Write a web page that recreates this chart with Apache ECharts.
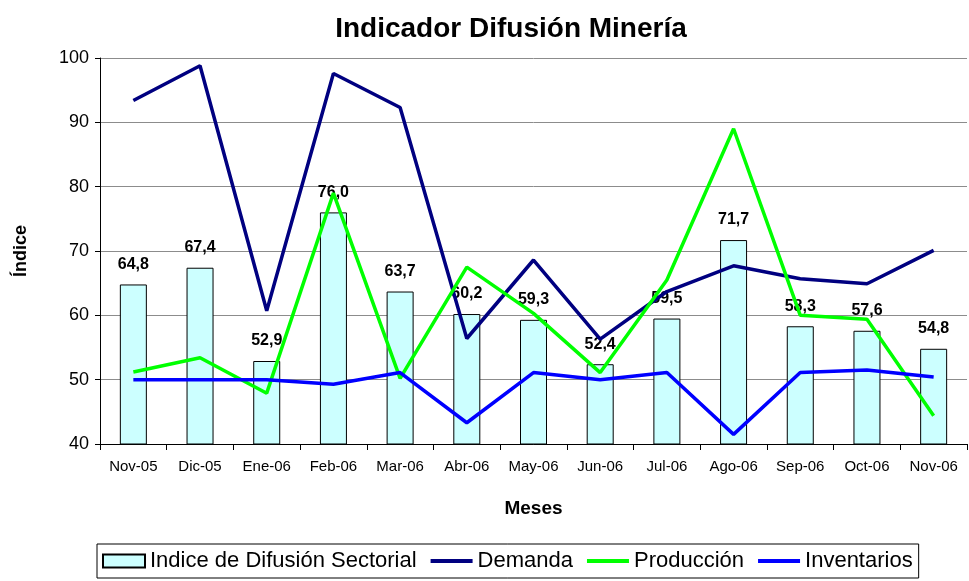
<!DOCTYPE html>
<html>
<head>
<meta charset="utf-8">
<script src="https://cdn.jsdelivr.net/npm/echarts@6/dist/echarts.min.js"></script>
<style>
  html, body { margin: 0; padding: 0; background: #fff; }
  #chart { width: 969px; height: 581px; }
</style>
</head>
<body>
<div id="chart"></div>
<script>
const meses = ['Nov-05', 'Dic-05', 'Ene-06', 'Feb-06', 'Mar-06', 'Abr-06', 'May-06', 'Jun-06', 'Jul-06', 'Ago-06', 'Sep-06', 'Oct-06', 'Nov-06'];
const indiceSectorial = [64.8, 67.4, 52.9, 76.0, 63.7, 60.2, 59.3, 52.4, 59.5, 71.7, 58.3, 57.6, 54.8];
const demanda = [93.4, 98.8, 60.7, 97.6, 92.3, 56.4, 68.6, 56.3, 63.7, 67.7, 65.7, 64.9, 70.1];
const produccion = [51.2, 53.4, 47.9, 79.0, 50.2, 67.5, 60.3, 51.1, 65.5, 89.0, 60.0, 59.4, 44.4];
const inventarios = [50.0, 50.0, 50.0, 49.3, 51.1, 43.3, 51.1, 50.0, 51.1, 41.5, 51.1, 51.5, 50.4];

const chart = echarts.init(document.getElementById('chart'));
const font = 'Arial, "Liberation Sans", sans-serif';
const lineIcon = 'path://M0,0H40V4H0Z';

const option = {
    backgroundColor: '#fff',
    animation: false,
    textStyle: { fontFamily: font, color: '#000' },
    title: {
        text: 'Indicador Difusión Minería',
        left: 506,
        top: 10,
        textAlign: 'center',
        textStyle: { fontFamily: font, fontSize: 28, fontWeight: 'bold', color: '#000' }
    },
    legend: {
        left: 97,
        top: 544,
        padding: [6, 6, 6, 5],
        borderColor: '#000',
        borderWidth: 1,
        itemGap: 14,
        itemWidth: 42,
        itemHeight: 13,
        textStyle: { fontFamily: font, fontSize: 22, color: '#000' },
        data: [
            { name: 'Indice de Difusión Sectorial', icon: 'rect' },
            { name: 'Demanda', icon: lineIcon },
            { name: 'Producción', icon: lineIcon },
            { name: 'Inventarios', icon: lineIcon }
        ]
    },
    grid: {
        left: 100,
        right: 2,
        top: 58,
        bottom: 137,
        containLabel: false
    },
    xAxis: {
        type: 'category',
        data: meses,
        name: 'Meses',
        nameLocation: 'middle',
        nameGap: 55,
        nameTextStyle: { fontFamily: font, fontSize: 19, fontWeight: 'bold', color: '#000' },
        axisLine: { lineStyle: { color: '#000', width: 1 } },
        axisTick: { show: true, alignWithLabel: false, length: 6, lineStyle: { color: '#000' } },
        axisLabel: { fontFamily: font, fontSize: 15, color: '#000', margin: 15, interval: 0 }
    },
    yAxis: {
        type: 'value',
        min: 40,
        max: 100,
        interval: 10,
        name: 'Índice',
        nameLocation: 'middle',
        nameGap: 70,
        nameRotate: 90,
        nameTextStyle: { fontFamily: font, fontSize: 18, fontWeight: 'bold', color: '#000' },
        axisLine: { show: true, lineStyle: { color: '#000', width: 1 } },
        axisTick: { show: true, length: 5, lineStyle: { color: '#000' } },
        axisLabel: { fontFamily: font, fontSize: 18, color: '#000', margin: 11 },
        splitLine: { show: true, lineStyle: { color: '#8c8c8c', width: 1 } }
    },
    series: [
        {
            name: 'Indice de Difusión Sectorial',
            type: 'bar',
            data: indiceSectorial,
            barWidth: 27,
            itemStyle: { color: '#ccffff', borderColor: '#000', borderWidth: 1 },
            label: {
                show: true,
                position: 'top',
                distance: 12,
                fontFamily: font,
                fontSize: 16,
                fontWeight: 'bold',
                color: '#000',
                formatter: function (p) {
                    return p.value.toFixed(1).replace('.', ',');
                }
            },
            z: 2
        },
        {
            name: 'Demanda',
            type: 'line',
            data: demanda,
            symbol: 'none',
            lineStyle: { color: '#000080', width: 3.5 },
            itemStyle: { color: '#000080' },
            z: 3
        },
        {
            name: 'Producción',
            type: 'line',
            data: produccion,
            symbol: 'none',
            lineStyle: { color: '#00ff00', width: 3.5 },
            itemStyle: { color: '#00ff00' },
            z: 3
        },
        {
            name: 'Inventarios',
            type: 'line',
            data: inventarios,
            symbol: 'none',
            lineStyle: { color: '#0000ff', width: 3.5 },
            itemStyle: { color: '#0000ff' },
            z: 3
        }
    ]
};

chart.setOption(option);
</script>
</body>
</html>
